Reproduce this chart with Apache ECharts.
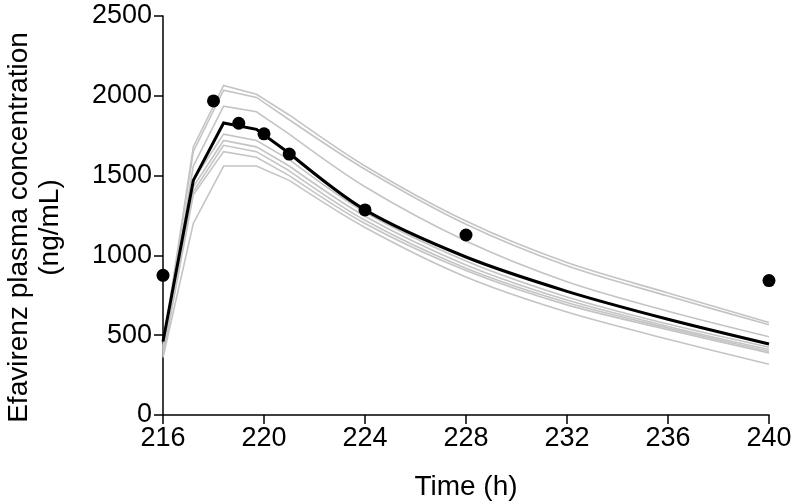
<!DOCTYPE html>
<html>
<head>
<meta charset="utf-8">
<script src="https://cdn.jsdelivr.net/npm/echarts@6/dist/echarts.min.js"></script>
<style>html,body{margin:0;padding:0;background:#fff}#c{width:794px;height:504px}</style>
</head>
<body>
<div id="c"></div>
<script>
// Time points of the simulated profiles (h)
const times = [216, 217.2, 218.4, 219.7, 221, 224, 228, 232, 236, 240];
// Individual simulated profiles (grey)
const grey1 = [430, 1680, 2065, 2010, 1880, 1560, 1215, 955, 765, 580];
const grey2 = [420, 1650, 2035, 1990, 1850, 1540, 1195, 935, 745, 565];
const grey3 = [400, 1560, 1935, 1900, 1760, 1430, 1090, 835, 650, 490];
const grey4 = [410, 1470, 1760, 1720, 1600, 1270, 965, 740, 570, 425];
const grey5 = [390, 1430, 1720, 1680, 1560, 1245, 940, 720, 555, 410];
const grey6 = [380, 1400, 1690, 1650, 1530, 1220, 920, 705, 545, 398];
const grey7 = [370, 1380, 1650, 1615, 1500, 1200, 905, 690, 535, 388];
const grey8 = [360, 1200, 1560, 1560, 1470, 1175, 865, 645, 475, 318];
// Mean predicted profile (black)
const meanProfile = [460, 1470, 1830, 1790, 1640, 1285, 990, 775, 600, 445];
// Observed concentrations
const obsTimes = [216, 218, 219, 220, 221, 224, 228, 240];
const obsValues = [875, 1968, 1828, 1762, 1635, 1285, 1128, 842];
// Axis ticks
const xTicks = [216, 220, 224, 228, 232, 236, 240];
const yTicks = [0, 500, 1000, 1500, 2000, 2500];

const greys = [grey1, grey2, grey3, grey4, grey5, grey6, grey7, grey8];
const RISE_END = 4; // index where the smooth decay part starts

function pairs(vals, from, to) {
  const out = [];
  for (let i = from; i <= to; i++) out.push([times[i], vals[i]]);
  return out;
}
function profileSeries(vals, color, width, z) {
  return [
    { type: 'line', data: pairs(vals, 0, RISE_END), showSymbol: false, symbol: 'none', smooth: false,
      lineStyle: { color: color, width: width, join: 'miter' }, z: z, silent: true },
    { type: 'line', data: pairs(vals, RISE_END, times.length - 1), showSymbol: false, symbol: 'none', smooth: 0.3,
      lineStyle: { color: color, width: width }, z: z, silent: true }
  ];
}

let series = [];
greys.forEach(g => { series = series.concat(profileSeries(g, '#c4c4c4', 1.6, 2)); });
series = series.concat(profileSeries(meanProfile, '#000000', 3, 3));
series.push({
  type: 'scatter', data: obsTimes.map((t, i) => [t, obsValues[i]]),
  symbol: 'circle', symbolSize: 13, itemStyle: { color: '#000', opacity: 1 }, z: 4, silent: true
});

const font = '"Liberation Sans", Arial, sans-serif';
const chart = echarts.init(document.getElementById('c'), null, { renderer: 'canvas' });
chart.setOption({
  animation: false,
  backgroundColor: '#fff',
  grid: { left: 163, right: 25, top: 16, bottom: 89, containLabel: false, outerBoundsMode: 'none' },
  xAxis: {
    type: 'value', min: xTicks[0], max: xTicks[xTicks.length - 1], interval: 4,
    name: 'Time (h)', nameLocation: 'middle', nameGap: 58,
    nameTextStyle: { fontFamily: font, fontSize: 28, color: '#000' },
    axisLine: { lineStyle: { color: '#000', width: 1.5 } },
    axisTick: { show: true, length: 9, lineStyle: { color: '#000', width: 1.5 } },
    axisLabel: { fontFamily: font, fontSize: 27, color: '#000', margin: 10, formatter: v => String(v) },
    splitLine: { show: false }
  },
  yAxis: {
    type: 'value', min: yTicks[0], max: yTicks[yTicks.length - 1], interval: 500,
    name: 'Efavirenz plasma concentration\n(ng/mL)', nameLocation: 'middle', nameGap: 97,
    nameTextStyle: { fontFamily: font, fontSize: 28, color: '#000', lineHeight: 31, padding: [0, 24, 0, 0] },
    axisLine: { show: true, lineStyle: { color: '#000', width: 1.5 } },
    axisTick: { show: true, length: 9, lineStyle: { color: '#000', width: 1.5 } },
    axisLabel: { fontFamily: font, fontSize: 27, color: '#000', margin: 11, formatter: v => String(v) },
    splitLine: { show: false }
  },
  series: series
});
</script>
</body>
</html>
